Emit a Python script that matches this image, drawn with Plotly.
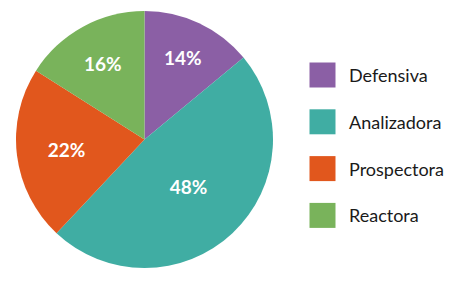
import plotly.graph_objects as go

labels = ["Defensiva", "Analizadora", "Prospectora", "Reactora"]
values = [14, 48, 22, 16]
colors = ["#8b5fa5", "#40ada3", "#e1571d", "#79b35b"]

W, H = 454, 286

fig = go.Figure()
fig.add_trace(go.Pie(
    labels=labels,
    values=values,
    sort=False,
    direction="clockwise",
    rotation=0,
    marker=dict(colors=colors, line=dict(width=0)),
    texttemplate="%{value}%",
    textposition="inside",
    insidetextorientation="horizontal",
    textfont=dict(family="Lato", size=19, color="white", weight="bold"),
    domain=dict(x=[16 / W, 273 / W], y=[18 / H, 275 / H]),
    showlegend=False,
    hoverinfo="label+percent",
))

# custom legend built from the label/color lists
x0 = 309.5 / W
x1 = 335.5 / W
first_c = 75.0
step = 46.8
sq = 25.0
for i, (lab, col) in enumerate(zip(labels, colors)):
    cy = first_c + i * step
    fig.add_shape(type="rect", xref="paper", yref="paper",
                  x0=x0, x1=x1,
                  y0=1 - (cy + sq / 2) / H, y1=1 - (cy - sq / 2) / H,
                  fillcolor=col, line=dict(width=0))
    fig.add_annotation(xref="paper", yref="paper", x=347 / W, y=1 - cy / H,
                       text=lab, showarrow=False, xanchor="left", yanchor="middle",
                       font=dict(family="Lato", size=18, color="#1a1a1a"))

fig.update_layout(
    width=W, height=H,
    margin=dict(l=0, r=0, t=0, b=0),
    paper_bgcolor="white", plot_bgcolor="white",
)
fig.write_html("out.html",
               config={"displayModeBar": False},
               post_script="document.body.style.margin='0';document.body.style.overflow='hidden';")
